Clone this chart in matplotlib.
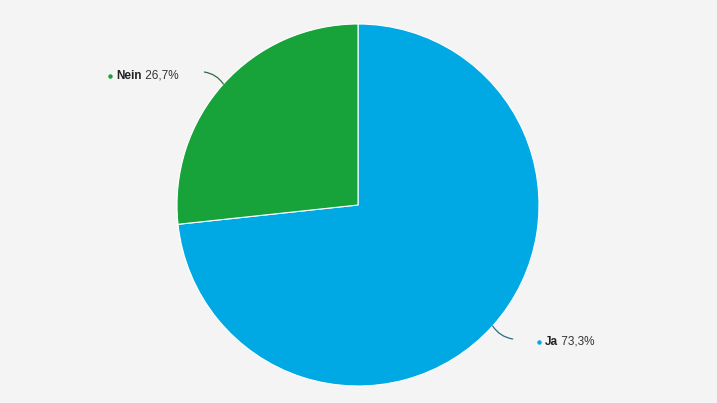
import numpy as np
import matplotlib
matplotlib.use("Agg")
from matplotlib import pyplot as plt

labels = ["Ja", "Nein"]
values = [73.3, 26.7]
colors = ["#00A9E3", "#18A23A"]
line_colors = ["#2F6A80", "#2F6A45"]

plt.rcParams["font.family"] = ["Liberation Sans", "DejaVu Sans"]

fig = plt.figure(figsize=(7.17, 4.03), dpi=100, facecolor="#F4F4F4")
ax = fig.add_axes([0, 0, 1, 1])
ax.set_facecolor("#F4F4F4")

cx, cy, r = 358, 403 - 205, 181
wedges, _ = ax.pie(values, colors=colors, startangle=90, counterclock=False,
                   center=(cx, cy), radius=r, frame=True,
                   wedgeprops=dict(edgecolor="white", linewidth=0.8))
ax.set_xlim(0, 717)
ax.set_ylim(0, 403)
ax.set_aspect("equal")
ax.axis("off")

# line end offsets, curvature, side, label y shift
offs = {"Ja": (20, -13, -0.22, "left", -3), "Nein": (-19, 12, -0.22, "right", -3.5)}

fig.canvas.draw()
renderer = fig.canvas.get_renderer()
for w, lab, v, col, lc in zip(wedges, labels, values, colors, line_colors):
    ang = np.deg2rad((w.theta1 + w.theta2) / 2)
    px, py = cx + r * np.cos(ang), cy + r * np.sin(ang)
    dx, dy, rad, side, sy = offs[lab]
    ex, ey = px + dx, py + dy
    ax.annotate("", xy=(px, py), xytext=(ex, ey),
                arrowprops=dict(arrowstyle="-", color=lc, lw=0.9,
                                connectionstyle="arc3,rad=%s" % rad,
                                shrinkA=0, shrinkB=0))
    t1 = ax.text(0, 0, lab, fontsize=8.5, fontweight="bold", color="#222222",
                 va="center")
    t2 = ax.text(0, 0, " " + ("%.1f" % v).replace(".", ",") + "%", fontsize=8.5,
                 color="#333333", va="center")
    w1 = t1.get_window_extent(renderer).width
    w2 = t2.get_window_extent(renderer).width
    ty = ey + sy
    if side == "left":
        dot_x = ex + 26
    else:
        dot_x = ex - 28 - (w1 + w2) - 4
    ax.plot(dot_x, ty, "o", color=col, markersize=2.2)
    t1.set_position((dot_x + 6, ty))
    t2.set_position((dot_x + 6 + w1, ty))

fig.savefig("out.png", dpi=100, facecolor=fig.get_facecolor())
